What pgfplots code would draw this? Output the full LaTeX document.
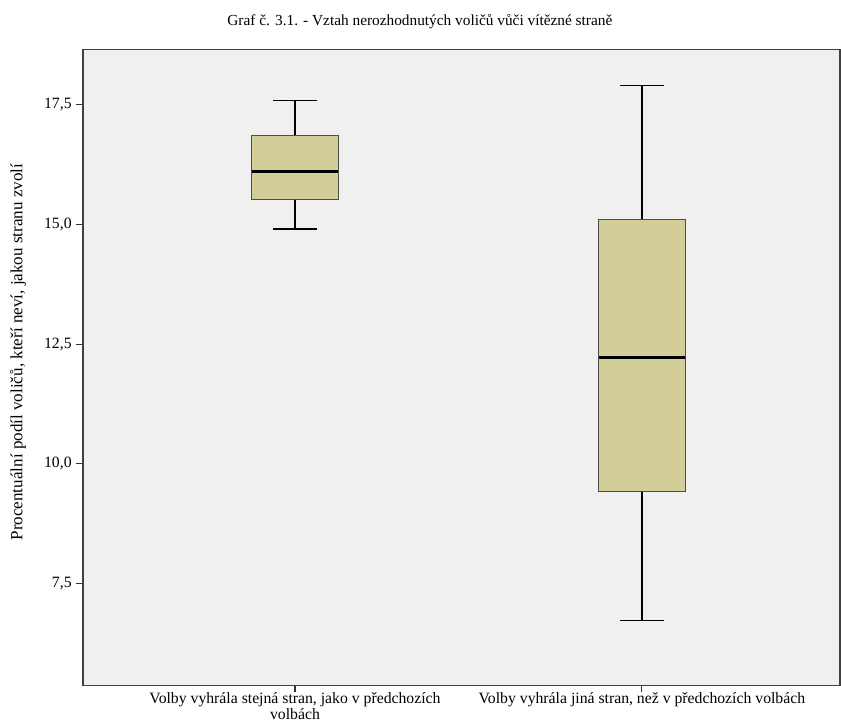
\documentclass[border=0pt]{standalone}
\usepackage{fontspec}
\setmainfont{Liberation Serif}
\usepackage{pgfplots}
\pgfplotsset{compat=1.18}
\definecolor{bgcol}{HTML}{F0F0F0}
\definecolor{boxfill}{HTML}{D3CE97}
\begin{document}
\begin{tikzpicture}
\path[use as bounding box] (-62.25pt,-26.8pt) rectangle (568.5pt,514pt);
\begin{axis}[
  at={(0,0)}, anchor=south west, scale only axis,
  width=567.75pt, height=477pt,
  xmin=0.389, xmax=2.571, ymin=5.367, ymax=18.66,
  axis background/.style={fill=bgcol},
  axis line style={draw=black!75, line width=1.1pt},
  tick align=outside, xtick pos=bottom, ytick pos=left,
  major tick length=5pt,
  tick style={black!80, line width=0.8pt},
  ytick={7.5,10,12.5,15,17.5},
  xtick={1,2},
  xticklabels={{Volby vyhrála stejná stran, jako v předchozích\\volbách},{Volby vyhrála jiná stran, než v předchozích volbách}},
  xticklabel style={align=center, font=\fontsize{11.8}{9.6}\selectfont, yshift=2.8pt},
  yticklabel style={font=\fontsize{11.8}{12}\selectfont},
  /pgf/number format/assume math mode=true,
  /pgf/number format/.cd, fixed, fixed zerofill, precision=1, use comma,
  /pgfplots/.cd,
  ylabel={Procentuální podíl voličů, kteří neví, jakou stranu zvolí},
  ylabel style={at={(axis description cs:-0.086,0.524)}, anchor=center, font=\fontsize{12.8}{14}\selectfont},
  title={Graf č. 3.1. - Vztah nerozhodnutých voličů vůči vítězné straně},
  title style={at={(axis description cs:0.445,1.031)}, anchor=center, font=\fontsize{11.5}{14}\selectfont},
]
% Box 1: lower whisker 14.90, Q1 15.52, median 16.11, Q3 16.85, upper whisker 17.59
\addplot[black, line width=1.2pt] coordinates {(1,14.90) (1,15.52)};
\addplot[black, line width=1.2pt] coordinates {(1,16.85) (1,17.59)};
\addplot[black, line width=1.2pt] coordinates {(0.9365,14.90) (1.0635,14.90)};
\addplot[black, line width=1.2pt] coordinates {(0.9365,17.59) (1.0635,17.59)};
\addplot[fill=boxfill, draw=black!70, line width=0.8pt] coordinates {(0.875,15.52) (1.125,15.52) (1.125,16.85) (0.875,16.85)} --cycle;
\addplot[black, line width=2.2pt] coordinates {(0.875,16.11) (1.125,16.11)};
% Box 2: lower whisker 6.72, Q1 9.415, median 12.22, Q3 15.11, upper whisker 17.90
\addplot[black, line width=1.2pt] coordinates {(2,6.72) (2,9.415)};
\addplot[black, line width=1.2pt] coordinates {(2,15.11) (2,17.90)};
\addplot[black, line width=1.2pt] coordinates {(1.9365,6.72) (2.0635,6.72)};
\addplot[black, line width=1.2pt] coordinates {(1.9365,17.90) (2.0635,17.90)};
\addplot[fill=boxfill, draw=black!70, line width=0.8pt] coordinates {(1.875,9.415) (2.125,9.415) (2.125,15.11) (1.875,15.11)} --cycle;
\addplot[black, line width=2.2pt] coordinates {(1.875,12.22) (2.125,12.22)};
\end{axis}
\end{tikzpicture}
\end{document}
